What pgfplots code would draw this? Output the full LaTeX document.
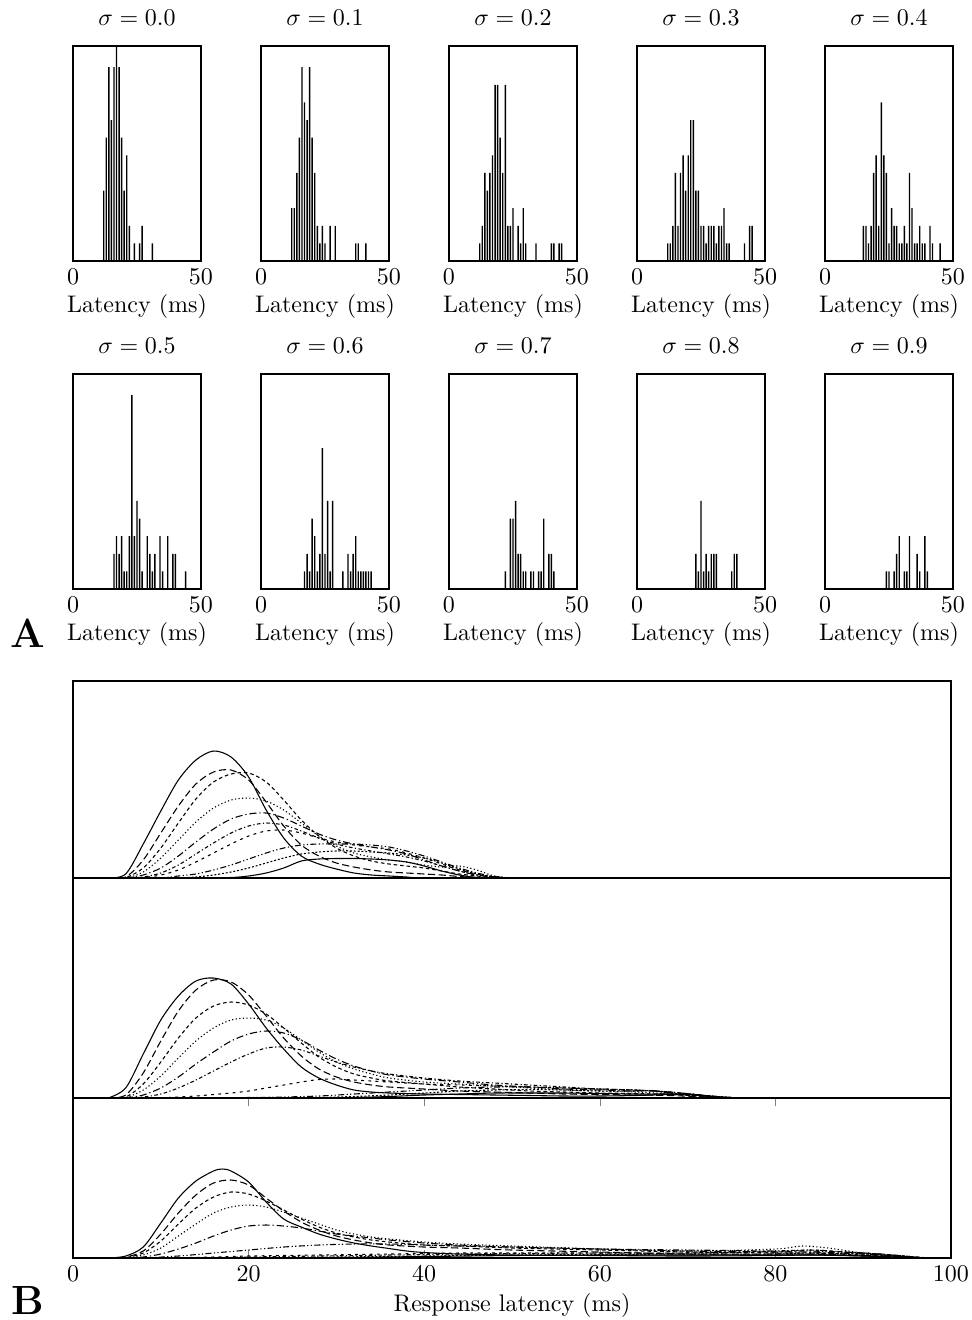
\documentclass[border=0pt]{standalone}
\usepackage{pgfplots}
\pgfplotsset{compat=1.18}
\begin{document}
\begin{tikzpicture}[x=1pt,y=1pt]
\useasboundingbox (0pt,0pt) rectangle (405pt,-550pt);
\pgfplotsset{
 hist/.style={scale only axis, width=53.33pt, height=89.58pt, xmin=0, xmax=50, ymin=0, ymax=12.2,
   xtick={0,50}, ytick=\empty, major tick length=0pt, xlabel={Latency (ms)},
   axis line style={line width=0.6pt}, ybar, bar width=0.55, bar shift=0, anchor=north west,
   xlabel style={yshift=3pt}, title style={yshift=-1pt}, axis on top},
 histbar/.style={draw=none, fill=black},
 curves/.style={scale only axis, width=365.83pt, xmin=0, xmax=100, ymin=0, anchor=north west,
   ytick=\empty, axis line style={line width=0.6pt}},
 s0/.style={black, line width=0.45pt, smooth, no markers},
 s1/.style={s0, dash pattern=on 3pt off 1.5pt},
 s2/.style={s0, dash pattern=on 1.5pt off 1.2pt},
 s3/.style={s0, dash pattern=on 0.5pt off 1pt},
 s4/.style={s0, dash pattern=on 3pt off 1.2pt on 0.5pt off 1.2pt},
 s5/.style={s0, dash pattern=on 1.5pt off 1pt on 0.5pt off 1pt},
 s6/.style={s0, dash pattern=on 1.2pt off 1.8pt},
 s7/.style={s0, dash pattern=on 2.5pt off 1pt on 0.5pt off 1pt on 0.5pt off 1pt},
 s8/.style={s0, dash pattern=on 0.8pt off 0.8pt},
 s9/.style={s0},
}
% ---------- Row 1 ----------
\begin{axis}[hist, at={(30.42pt,-19.17pt)}, title={$\sigma=0.0$}]
\addplot[histbar] coordinates {(12,4)(13,7)(14,11)(15,8)(16,11)(17,12.3)(18,11)(19,7)(20,4)(21,6)(22,2)(24,1)(26,1)(27,2)(31,1)};
\end{axis}
\begin{axis}[hist, at={(108.75pt,-19.17pt)}, title={$\sigma=0.1$}]
\addplot[histbar] coordinates {(12,3)(13,3)(14,5)(15,7)(16,11)(17,9)(18,8)(19,11)(20,7)(21,5)(22,2)(23,1)(24,2)(25,1)(27,2)(29,2)(37,1)(38,1)(41,1)};
\end{axis}
\begin{axis}[hist, at={(187.08pt,-19.17pt)}, title={$\sigma=0.2$}]
\addplot[histbar] coordinates {(12,1)(13,2)(14,5)(15,4)(16,5)(17,6)(18,10)(19,10)(20,7)(21,5)(22,10)(23,2)(24,2)(25,3)(27,2)(28,1)(29,3)(30,1)(34,1)(40,1)(41,1)(43,1)(44,1)};
\end{axis}
\begin{axis}[hist, at={(265.42pt,-19.17pt)}, title={$\sigma=0.3$}]
\addplot[histbar] coordinates {(12,1)(13,1)(14,2)(15,5)(16,2)(17,5)(18,6)(19,4)(20,6)(21,8)(22,8)(23,4)(24,4)(25,2)(26,2)(27,1)(28,2)(29,2)(30,2)(31,1)(32,2)(33,2)(34,3)(35,1)(36,1)(42,1)(44,2)(45,2)};
\end{axis}
\begin{axis}[hist, at={(343.75pt,-19.17pt)}, title={$\sigma=0.4$}]
\addplot[histbar] coordinates {(15,2)(16,2)(17,1)(18,2)(19,5)(20,6)(21,2)(22,9)(23,6)(24,5)(25,1)(26,3)(27,2)(28,2)(29,1)(30,1)(31,2)(32,1)(33,5)(34,3)(35,1)(36,1)(37,2)(38,1)(39,1)(41,2)(42,1)(45,1)};
\end{axis}
% ---------- Row 2 ----------
\begin{axis}[hist, at={(30.42pt,-155.83pt)}, title={$\sigma=0.5$}]
\addplot[histbar] coordinates {(16,2)(17,3)(18,2)(19,3)(20,1)(21,1)(22,3)(23,11)(24,3)(25,5)(26,4)(27,1)(29,3)(30,2)(31,1)(32,2)(34,3)(35,1)(37,3)(39,2)(40,2)(44,1)};
\end{axis}
\begin{axis}[hist, at={(108.75pt,-155.83pt)}, title={$\sigma=0.6$}]
\addplot[histbar] coordinates {(17,1)(18,2)(19,1)(20,4)(21,3)(22,1)(23,2)(24,8)(25,2)(26,5)(27,1)(28,5)(32,1)(34,2)(35,1)(36,2)(37,3)(38,1)(39,1)(40,1)(41,1)(42,1)(43,1)};
\end{axis}
\begin{axis}[hist, at={(187.08pt,-155.83pt)}, title={$\sigma=0.7$}]
\addplot[histbar] coordinates {(22,1)(24,4)(25,4)(26,5)(27,2)(28,2)(29,1)(30,1)(32,1)(33,1)(35,1)(36,1)(37,4)(39,2)(40,2)(41,1)};
\end{axis}
\begin{axis}[hist, at={(265.42pt,-155.83pt)}, title={$\sigma=0.8$}]
\addplot[histbar] coordinates {(23,2)(24,1)(25,5)(26,1)(27,2)(28,1)(29,2)(30,2)(31,2)(37,1)(38,2)(39,2)};
\end{axis}
\begin{axis}[hist, at={(343.75pt,-155.83pt)}, title={$\sigma=0.9$}]
\addplot[histbar] coordinates {(24,1)(25,1)(27,1)(28,2)(29,3)(31,1)(32,1)(33,3)(36,2)(37,1)(39,3)(40,1)};
\end{axis}
\node[font=\fontsize{17}{20}\selectfont\bfseries] at (11.7pt,-263.75pt) {A};
% ---------- B top ----------
\begin{axis}[curves, at={(30.42pt,-283.75pt)}, height=82.08pt, ymax=197, xtick=\empty]
\addplot[s0] coordinates {(4,0)(6,4)(8,34)(10,67)(12,98)(14,118)(16,127)(18,121)(20,101)(22,68)(24,40)(26,22)(28,14)(30,9)(32,5)(34,3)(36,2)(38,1)(40,0)(50,0)};
\addplot[s1] coordinates {(4,0)(6,1)(8,18)(10,45)(12,72)(14,94)(16,106)(18,108)(20,98)(22,76)(24,52)(26,33)(28,22)(30,15)(32,11)(34,8)(36,6)(38,5)(40,4)(42,3)(44,1.5)(46,0.5)(48,0)};
\addplot[s2] coordinates {(4,0)(6,0.5)(8,10)(10,30)(12,55)(14,79)(16,96)(18,104)(20,105)(22,96)(24,78)(26,58)(28,42)(30,30)(32,22)(34,17)(36,14)(38,12)(40,10)(42,7)(44,4)(46,2)(48,0.5)(50,0)};
\addplot[s3] coordinates {(4,0)(6,0)(8,6)(10,20)(12,38)(14,56)(16,70)(18,78)(20,80)(22,77)(24,68)(26,55)(28,42)(30,32)(32,25)(34,21)(36,18)(38,16)(40,13)(42,11)(44,12)(46,8)(48,2)(50,0)};
\addplot[s4] coordinates {(6,0)(8,3)(10,10)(12,22)(14,36)(16,49)(18,59)(20,64)(22,65)(24,60)(26,52)(28,44)(30,38)(32,34)(34,31)(36,28)(38,24)(40,18)(42,12)(44,7)(46,3)(48,1)(50,0)};
\addplot[s5] coordinates {(6,0)(8,1)(10,5)(12,13)(14,24)(16,35)(18,45)(20,52)(22,55)(24,53)(26,47)(28,40)(30,34)(32,30)(34,27)(36,24)(38,21)(40,17)(42,12)(44,7)(46,3)(48,1)(50,0)};
\addplot[s6] coordinates {(6,0)(8,0.5)(10,3)(12,8)(14,16)(16,25)(18,34)(20,42)(22,47)(24,48)(26,45)(28,40)(30,36)(32,33)(34,31)(36,29)(38,25)(40,20)(42,14)(44,8)(46,4)(48,1)(50,0)};
\addplot[s7] coordinates {(8,0)(10,0)(12,2)(14,4)(16,8)(18,13)(20,19)(22,25)(24,30)(26,33)(28,34)(30,34)(32,34)(34,33)(36,31)(38,27)(40,22)(42,16)(44,10)(46,5)(48,1.5)(50,0)};
\addplot[s8] coordinates {(10,0)(12,0)(14,1)(16,3)(18,6)(20,10)(22,15)(24,20)(26,24)(28,26)(30,27)(32,27)(34,26)(36,25)(38,23)(40,20)(42,15)(44,9)(46,4)(48,1)(50,0)};
\addplot[s9] coordinates {(14,0)(18,0.5)(20,2)(22,5)(24,10)(26,17)(28,19)(30,19.5)(32,19.5)(34,19)(36,18)(38,16)(40,12)(42,7)(44,3)(46,0.5)(48,0)};
\end{axis}
% ---------- B middle ----------
\begin{axis}[curves, at={(30.42pt,-365.83pt)}, height=91.67pt, ymax=220, xtick=\empty]
\addplot[s0] coordinates {(4,0)(6,10)(8,44)(10,78)(12,102)(14,117)(16,120)(18,114)(20,94)(22,70)(24,49)(26,31)(28,20)(30,13)(32,8)(34,6)(36,5)(40,4)(44,3.5)(48,3)(52,2.5)(56,2)(60,2)(64,2.5)(68,3.5)(70,3.5)(72,2)(74,0.5)(76,0)};
\addplot[s1] coordinates {(4,0)(6,3)(8,25)(10,57)(12,87)(14,108)(16,118)(18,116)(20,103)(22,82)(24,60)(26,42)(28,29)(30,21)(32,16)(34,13)(36,11)(40,9)(44,7)(48,6)(52,5)(56,4)(60,3.5)(64,3)(68,2.5)(72,1)(74,0.3)(76,0)};
\addplot[s2] coordinates {(4,0)(6,1)(8,14)(10,36)(12,60)(14,80)(16,92)(18,96)(20,93)(22,84)(24,70)(26,55)(28,41)(30,31)(32,24)(34,20)(36,17)(40,14)(44,11)(48,9)(52,7)(56,6)(60,5)(64,4.5)(68,3.5)(72,1.5)(74,0.5)(76,0)};
\addplot[s3] coordinates {(4,0)(6,0.5)(8,8)(10,22)(12,40)(14,57)(16,70)(18,78)(20,80)(22,78)(24,70)(26,58)(28,46)(30,36)(32,29)(34,24)(36,20)(40,16)(44,14)(48,12)(52,10)(56,8)(60,7)(64,6)(68,4)(72,1.5)(74,0.5)(76,0)};
\addplot[s4] coordinates {(6,0)(8,3)(10,10)(12,21)(14,34)(16,46)(18,57)(20,64)(22,67)(24,65)(26,58)(28,48)(30,39)(32,32)(34,27)(36,23)(40,19)(44,16)(48,13)(52,11)(56,9)(60,8)(64,7)(66,7.5)(68,5)(72,2)(74,0.5)(76,0)};
\addplot[s5] coordinates {(6,0)(8,1)(10,4)(12,10)(14,18)(16,27)(18,36)(20,44)(22,50)(24,51)(26,48)(28,42)(30,36)(32,31)(34,27)(36,24)(40,20)(44,17)(48,15)(52,13)(56,11)(60,9)(64,8)(68,6)(72,2.5)(74,1)(76,0)};
\addplot[s6] coordinates {(10,0)(12,1)(14,2)(16,3.5)(18,5)(20,7)(22,10)(24,13)(26,16)(28,18.5)(30,19)(32,18)(34,17)(36,16)(40,14)(44,13)(48,12)(52,11)(56,10)(60,9)(64,8)(68,6)(72,2.5)(74,1)(76,0)};
\addplot[s7] coordinates {(16,0)(20,0.5)(24,1)(28,2)(32,4)(36,6)(40,8)(44,10)(48,11)(52,11)(56,10)(60,9)(64,8)(68,6)(72,2.5)(74,1)(76,0)};
\addplot[s8] coordinates {(24,0)(28,0.5)(32,1.5)(36,3)(40,5)(44,7)(48,8)(52,8.5)(56,8)(60,7)(64,7)(66,7)(68,5)(72,2)(76,0)};
\addplot[s9] coordinates {(28,0)(32,0.5)(36,1.5)(40,3)(44,4)(48,5)(52,5)(56,5)(60,4.5)(64,4)(68,4)(70,4)(72,2.5)(74,1)(76,0)};
\end{axis}
% ---------- B bottom ----------
\begin{axis}[curves, at={(30.42pt,-457.5pt)}, height=66.67pt, ymax=160,
  xtick={0,20,40,60,80,100}, xtick pos=both, xticklabel pos=lower, tick align=inside,
  major tick length=3.5pt, xlabel={Response latency (ms)}, xlabel style={yshift=2pt}]
\addplot[s0] coordinates {(4,0)(6,2)(8,11)(10,35)(12,60)(14,77)(16,87)(17,89)(18,87)(20,76)(22,56)(24,39)(26,31)(28,24)(30,19)(32,15)(34,12)(36,9.5)(38,7)(40,5.5)(44,4)(50,3)(60,2.5)(70,2)(80,2.5)(84,3)(90,2)(94,1)(97,0)};
\addplot[s1] coordinates {(4,0)(6,1)(8,7)(10,24)(12,45)(14,63)(16,75)(18,78)(20,73)(22,60)(24,47)(26,36)(28,28)(30,22)(32,18)(34,15)(36,13)(40,11)(44,10)(50,8)(60,6)(70,4)(80,4)(84,4)(90,2.5)(94,1)(97,0)};
\addplot[s2] coordinates {(4,0)(6,0.5)(8,5)(10,17)(12,34)(14,50)(16,61)(18,66)(20,64)(22,57)(24,48)(26,39)(28,31)(30,25)(32,21)(34,18)(36,16)(40,13)(44,12)(50,10)(60,8)(70,6)(80,5)(84,5)(90,3)(94,1.5)(97,0)};
\addplot[s3] coordinates {(6,0)(8,3)(10,10)(12,22)(14,34)(16,45)(18,51)(20,53)(22,51)(24,46)(26,40)(28,34)(30,28)(32,24)(34,21)(36,19)(40,16)(44,14)(50,12)(60,9)(70,7)(80,9)(83,12)(86,10)(90,5)(94,2)(97,0)};
\addplot[s4] coordinates {(6,0)(8,1)(10,4)(12,9)(14,15)(16,22)(18,28)(20,32)(22,33)(24,32)(26,30)(28,27)(30,24)(32,22)(34,20)(36,18)(40,15)(44,13)(50,11)(60,9)(70,7)(80,6)(84,6)(90,4)(94,2)(97,0)};
\addplot[s7] coordinates {(8,0)(12,2)(16,5)(20,8)(24,11)(28,13)(32,14)(36,14)(40,13)(44,12)(50,11)(60,9)(70,8)(80,7)(84,7)(90,5)(94,2.5)(97,0)};
\addplot[s6] coordinates {(10,0)(16,1)(20,2)(28,3)(36,4)(44,5)(50,5)(60,5)(70,5)(80,6)(84,8)(88,6)(92,4)(96,1)(98,0)};
\addplot[s5] coordinates {(14,0)(20,1)(28,2)(36,3)(44,4)(50,4.5)(60,5)(70,5)(76,6)(80,7)(84,8)(88,6)(92,4)(96,1)(98,0)};
\addplot[s8] coordinates {(20,0)(30,1)(40,2)(50,3)(60,3.5)(70,4)(80,4)(84,5)(90,4)(94,2)(97,0)};
\addplot[s9] coordinates {(20,0)(30,0.5)(40,1.5)(50,2.5)(60,3)(70,3)(80,3)(86,3)(90,2)(94,1)(97,0)};
\end{axis}
\node[font=\fontsize{17}{20}\selectfont\bfseries] at (11.7pt,-541.7pt) {B};
\end{tikzpicture}
\end{document}
